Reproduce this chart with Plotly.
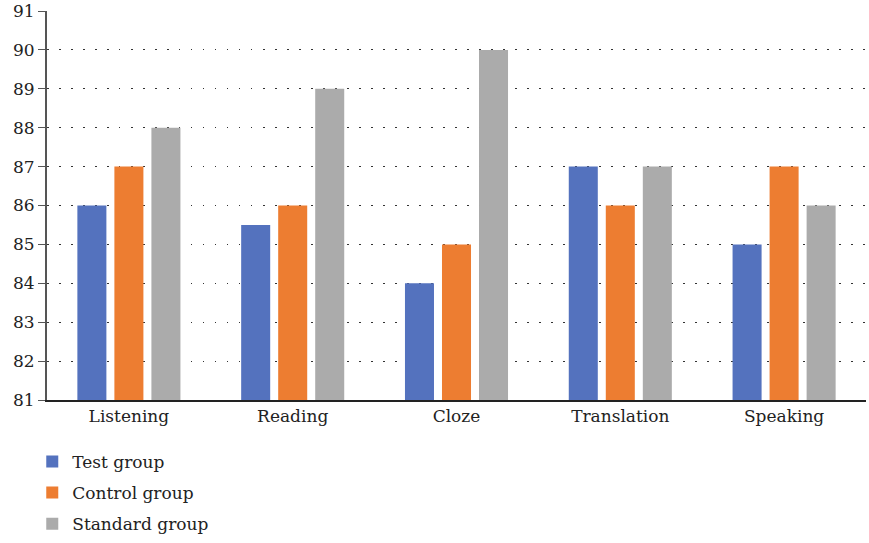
import plotly.graph_objects as go

categories = ["Listening", "Reading", "Cloze", "Translation", "Speaking"]
test_group = [86, 85.5, 84, 87, 85]
control_group = [87, 86, 85, 86, 87]
standard_group = [88, 89, 90, 87, 86]
y_ticks = list(range(81, 92))

series = [
    ("Test group", test_group, "#5472BE"),
    ("Control group", control_group, "#ED7D31"),
    ("Standard group", standard_group, "#ABABAB"),
]

fig = go.Figure()
for name, vals, color in series:
    fig.add_trace(go.Bar(x=categories, y=vals, name=name, marker_color=color,
                         marker_line_width=0, legendgroup=name))

serif = "DejaVu Serif"

fig.update_layout(
    width=869, height=543,
    margin=dict(l=47, r=3, t=11, b=143, autoexpand=False),
    plot_bgcolor="white", paper_bgcolor="white",
    font=dict(family=serif, size=17, color="#222222"),
    barmode="group", bargap=0.322, bargroupgap=0.216,
    showlegend=True,
    legend=dict(orientation="v", x=-0.018, xanchor="left", y=-0.113, yanchor="top",
                font=dict(family=serif, size=17), tracegroupgap=6, itemwidth=30),
    xaxis=dict(showline=True, linecolor="#222222", linewidth=1.5, ticks="",
               tickfont=dict(family=serif, size=17)),
    yaxis=dict(range=[81, 91], tickvals=y_ticks, showline=True, linecolor="#555555",
               linewidth=2, ticks="outside", ticklen=7, tickcolor="#555555",
               showgrid=True, gridcolor="#333333", griddash="1.5px,10.5px", gridwidth=1,
               tickfont=dict(family=serif, size=17), zeroline=False),
)

fig.write_html("out.html")
